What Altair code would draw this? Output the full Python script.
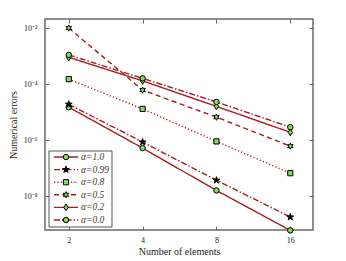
import altair as alt
import pandas as pd

# ---- data ----
n_elements = [2, 4, 8, 16]
series_labels = ["α=1.0", "α=0.99", "α=0.8", "α=0.5", "α=0.2", "α=0.0"]
err_a10 = [1.5e-5, 5.2e-7, 1.6e-8, 6.0e-10]
err_a099 = [1.9e-5, 8.5e-7, 3.7e-8, 1.8e-9]
err_a08 = [1.5e-4, 1.3e-5, 9.0e-7, 6.6e-8]
err_a05 = [1.0e-2, 6.1e-5, 6.6e-6, 6.1e-7]
err_a02 = [9.0e-4, 1.3e-4, 1.6e-5, 1.9e-6]
err_a00 = [1.1e-3, 1.6e-4, 2.3e-5, 2.9e-6]
y_ticks = [1e-2, 1e-4, 1e-6, 1e-8]

all_errs = [err_a10, err_a099, err_a08, err_a05, err_a02, err_a00]
rows = []
for lab, errs in zip(series_labels, all_errs):
    for n, e in zip(n_elements, errs):
        rows.append({"series": lab, "n": n, "err": e})
df = pd.DataFrame(rows)
leg_df = pd.DataFrame({"series": series_labels})

# ---- styles ----
RED = "#a51d1d"
GREEN = "#80dc5c"
FRAME = "#6a6a6a"
FONT = "Liberation Serif"

STAR5 = ("M0,-1.3L0.29,-0.4L1.236,-0.402L0.47,0.153L0.764,1.052L0,0.494"
         "L-0.764,1.052L-0.47,0.153L-1.236,-0.402L-0.29,-0.4Z")
STAR6 = ("M0,-1.15L0.29,-0.5L1.0,-0.575L0.575,0L1.0,0.575L0.29,0.5L0,1.15"
         "L-0.29,0.5L-1.0,0.575L-0.575,0L-1.0,-0.575L-0.29,-0.5Z")
THIN_DIAMOND = "M0,-1.25L0.8,0L0,1.25L-0.8,0Z"
SQUARE = "M-0.95,-0.95L0.95,-0.95L0.95,0.95L-0.95,0.95Z"

dash_scale = alt.Scale(domain=series_labels,
                       range=[[1, 0], [6, 2, 1.5, 2], [1.2, 2.2], [5, 3.5], [1, 0], [6, 2, 1.5, 2]])
shape_scale = alt.Scale(domain=series_labels,
                        range=["circle", STAR5, SQUARE, STAR6, THIN_DIAMOND, "circle"])
fill_scale = alt.Scale(domain=series_labels,
                       range=[GREEN, "black", GREEN, GREEN, GREEN, GREEN])

x_scale = alt.Scale(type="log", base=2, domain=[1.60, 19.8])
y_scale = alt.Scale(type="log", domain=[6.2e-10, 2.1e-2])

y_label_expr = ("datum.value > 1e-3 ? '10⁻²' : datum.value > 1e-5 ? '10⁻⁴' : "
                "datum.value > 1e-7 ? '10⁻⁶' : '10⁻⁸'")

x_bottom = alt.X("n:Q", scale=x_scale,
                 axis=alt.Axis(orient="bottom", values=n_elements, title="Number of elements",
                               offset=-4, tickSize=4, domain=False, grid=False,
                               labelPadding=6, titlePadding=2))
y_left = alt.Y("err:Q", scale=y_scale,
               axis=alt.Axis(orient="left", values=y_ticks, title="Numerical errors",
                             labelExpr=y_label_expr, offset=-4, tickSize=4, domain=False,
                             grid=False, labelPadding=8, titlePadding=5))
x_top = alt.X("n:Q", scale=x_scale,
              axis=alt.Axis(orient="top", values=n_elements, title=None, labels=False,
                            offset=-4, tickSize=4, domain=False, grid=False))
y_right = alt.Y("err:Q", scale=y_scale,
                axis=alt.Axis(orient="right", values=y_ticks, title=None, labels=False,
                              offset=-4, tickSize=4, domain=False, grid=False))

base = alt.Chart(df)
lines = base.mark_line(color=RED, strokeWidth=1.4).encode(
    x=x_top, y=y_right,
    strokeDash=alt.StrokeDash("series:N", scale=dash_scale, legend=None),
    detail="series:N",
)
points = base.mark_point(filled=True, opacity=1, stroke="black", strokeWidth=1, size=30).encode(
    x=x_bottom, y=y_left,
    shape=alt.Shape("series:N", scale=shape_scale, legend=None),
    fill=alt.Fill("series:N", scale=fill_scale, legend=None),
)

# ---- legend drawn by hand ----
leg_y = alt.Y("series:N",
              scale=alt.Scale(type="point", domain=series_labels, range=[138, 201], padding=0),
              axis=None)
box = alt.Chart(pd.DataFrame({"k": [0]})).mark_rect(
    fill="white", stroke="#555555", strokeWidth=1).encode(
    x=alt.value(4), x2=alt.value(67), y=alt.value(132), y2=alt.value(208))
leg_lines = alt.Chart(leg_df).mark_rule(color=RED, strokeWidth=1.4).encode(
    x=alt.value(9), x2=alt.value(33), y=leg_y,
    strokeDash=alt.StrokeDash("series:N", scale=dash_scale, legend=None),
)
leg_points = alt.Chart(leg_df).mark_point(filled=True, opacity=1, stroke="black",
                                          strokeWidth=1, size=30).encode(
    x=alt.value(21), y=leg_y,
    shape=alt.Shape("series:N", scale=shape_scale, legend=None),
    fill=alt.Fill("series:N", scale=fill_scale, legend=None),
)
leg_text = alt.Chart(leg_df).mark_text(
    align="left", baseline="middle", font=FONT, fontStyle="italic", fontSize=9.5,
    color="#4e3d2e").encode(
    x=alt.value(36), y=leg_y, text="series:N")

chart = alt.layer(lines, points, box, leg_lines, leg_points, leg_text).resolve_scale(
    y="independent"
).resolve_axis(x="independent", y="independent").properties(
    width=268, height=211,
    autosize=alt.AutoSizeParams(type="none"),
    padding={"left": 37, "top": 11, "right": 25, "bottom": 34},
).configure_view(
    stroke=FRAME, strokeWidth=1.5
).configure_axis(
    labelFont=FONT, titleFont=FONT, labelFontSize=8, titleFontSize=10,
    titleFontWeight="normal", labelColor="#222222", titleColor="#222222",
    tickColor=FRAME, tickWidth=1,
)

chart.save("out.html", embed_options={"renderer": "svg", "actions": False})
